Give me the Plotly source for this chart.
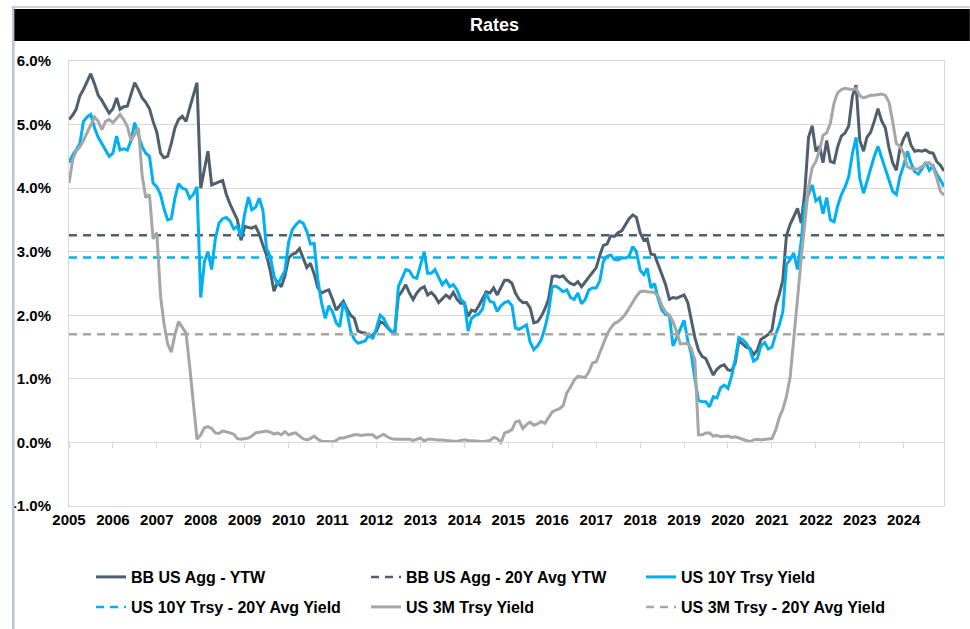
import pandas as pd
import plotly.graph_objects as go

# ---------------- data (monthly, percent) ----------------
dates = pd.date_range("2005-01-01", "2024-12-01", freq="MS")

agg_ytw = [
    5.08, 5.15, 5.24, 5.45, 5.55, 5.68, 5.80, 5.64, 5.46, 5.38, 5.28, 5.18,  # 2005
    5.25, 5.42, 5.24, 5.28, 5.29, 5.50, 5.66, 5.55, 5.42, 5.35, 5.25, 5.05,  # 2006
    4.88, 4.55, 4.48, 4.50, 4.70, 4.95, 5.08, 5.13, 5.05, 5.26, 5.45, 5.66,  # 2007
    4.00, 4.30, 4.58, 4.05, 4.08, 4.10, 4.12, 3.90, 3.75, 3.62, 3.50, 3.18,  # 2008
    3.40, 3.38, 3.37, 3.40, 3.28, 3.10, 2.95, 2.70, 2.38, 2.52, 2.45, 2.62,  # 2009
    2.90, 2.96, 2.98, 3.05, 2.90, 2.75, 2.82, 2.65, 2.43, 2.35, 2.38, 2.40,  # 2010
    2.25, 2.08, 2.15, 2.22, 2.10, 2.00, 1.95, 1.75, 1.73, 1.72, 1.67, 1.69,  # 2011
    1.75, 1.90, 1.87, 1.80, 1.75, 1.72, 2.30, 2.38, 2.48, 2.35, 2.25, 2.35,  # 2012
    2.42, 2.45, 2.32, 2.36, 2.30, 2.20, 2.26, 2.32, 2.27, 2.36, 2.25, 2.19,  # 2013
    2.19, 1.98, 2.08, 2.06, 2.15, 2.25, 2.37, 2.35, 2.43, 2.32, 2.45, 2.55,  # 2014
    2.55, 2.50, 2.35, 2.25, 2.20, 2.20, 2.12, 1.88, 1.90, 1.98, 2.10, 2.25,  # 2015
    2.61, 2.62, 2.60, 2.62, 2.55, 2.50, 2.48, 2.53, 2.45, 2.52, 2.60, 2.68,  # 2016
    2.75, 2.95, 3.10, 3.12, 3.25, 3.24, 3.30, 3.33, 3.42, 3.52, 3.58, 3.54,  # 2017
    3.30, 3.18, 3.20, 2.96, 2.95, 2.80, 2.65, 2.48, 2.25, 2.28, 2.27, 2.30,  # 2018
    2.32, 2.20, 1.95, 1.65, 1.45, 1.35, 1.32, 1.20, 1.06, 1.15, 1.20, 1.22,  # 2019
    1.14, 1.13, 1.25, 1.60, 1.55, 1.50, 1.48, 1.38, 1.45, 1.62, 1.66, 1.70,  # 2020
    1.77, 2.14, 2.32, 2.55, 3.25, 3.43, 3.55, 3.68, 3.45, 3.95, 4.80, 4.98,  # 2021
    4.58, 4.66, 4.40, 4.75, 4.42, 4.40, 4.65, 4.82, 4.87, 4.98, 5.45, 5.62,  # 2022
    4.75, 4.58, 4.80, 4.88, 5.05, 5.25, 5.06, 4.95, 4.63, 4.40, 4.28, 4.62,  # 2023
    4.78, 4.88, 4.68, 4.58, 4.59, 4.58, 4.60, 4.56, 4.55, 4.42, 4.36, 4.27,  # 2024
]

ust10_yield = [
    4.40, 4.52, 4.60, 4.70, 5.05, 5.12, 5.16, 4.95, 4.80, 4.70, 4.62, 4.50,  # 2005
    4.55, 4.82, 4.60, 4.62, 4.60, 4.75, 5.03, 4.85, 4.65, 4.55, 4.50, 4.08,  # 2006
    4.02, 3.90, 3.68, 3.50, 3.52, 3.85, 4.07, 4.00, 3.98, 3.84, 3.90, 4.02,  # 2007
    2.28, 2.85, 3.00, 2.72, 3.20, 3.45, 3.52, 3.54, 3.48, 3.36, 3.40, 3.24,  # 2008
    3.60, 3.86, 3.66, 3.70, 3.84, 3.65, 3.05, 2.93, 2.62, 2.48, 2.58, 2.70,  # 2009
    3.15, 3.35, 3.42, 3.48, 3.45, 3.32, 3.12, 3.13, 2.55, 2.20, 1.95, 2.15,  # 2010
    2.05, 1.88, 1.82, 2.20, 2.05, 1.75, 1.62, 1.56, 1.58, 1.60, 1.70, 1.63,  # 2011
    1.80, 2.00, 1.95, 1.83, 1.75, 1.70, 2.45, 2.60, 2.72, 2.70, 2.60, 2.58,  # 2012
    2.80, 3.00, 2.66, 2.66, 2.72, 2.60, 2.48, 2.55, 2.45, 2.48, 2.40, 2.25,  # 2013
    2.20, 1.75, 1.95, 2.00, 2.02, 2.10, 2.35, 2.22, 2.20, 2.06, 2.15, 2.20,  # 2014
    2.22, 2.15, 1.80, 1.78, 1.82, 1.85, 1.58, 1.46, 1.52, 1.61, 1.80, 2.05,  # 2015
    2.45, 2.46, 2.42, 2.37, 2.40, 2.28, 2.25, 2.35, 2.18, 2.25, 2.40, 2.43,  # 2016
    2.43, 2.55, 2.85, 2.93, 2.95, 2.88, 2.87, 2.90, 2.90, 2.93, 3.08, 3.00,  # 2017
    2.71, 2.64, 2.74, 2.43, 2.50, 2.25, 2.08, 2.01, 2.00, 1.52, 1.65, 1.78,  # 2018
    1.92, 1.60, 1.40, 1.00, 0.66, 0.64, 0.64, 0.56, 0.72, 0.70, 0.86, 0.90,  # 2019
    0.85, 1.05, 1.30, 1.65, 1.62, 1.56, 1.46, 1.28, 1.32, 1.52, 1.57, 1.47,  # 2020
    1.50, 1.70, 1.84, 2.05, 2.80, 2.88, 2.98, 2.72, 3.16, 3.75, 3.92, 4.05,  # 2021
    3.80, 3.85, 3.60, 3.85, 3.50, 3.47, 3.72, 3.90, 4.02, 4.18, 4.55, 4.80,  # 2022
    4.15, 3.92, 4.10, 4.31, 4.50, 4.66, 4.48, 4.32, 4.12, 3.95, 3.90, 4.18,  # 2023
    4.36, 4.58, 4.40, 4.26, 4.22, 4.30, 4.41, 4.28, 4.35, 4.22, 4.13, 4.02,  # 2024
]

ust3m_yield = [
    4.08, 4.45, 4.58, 4.65, 4.75, 4.87, 5.00, 5.12, 5.05, 4.92, 5.05, 5.08,  # 2005
    5.03, 5.10, 5.16, 5.08, 4.97, 4.75, 4.85, 4.95, 4.20, 3.85, 3.90, 3.20,  # 2006
    3.30, 2.30, 1.88, 1.55, 1.42, 1.70, 1.90, 1.80, 1.72, 1.20, 0.62, 0.05,  # 2007
    0.12, 0.23, 0.25, 0.22, 0.15, 0.14, 0.18, 0.17, 0.15, 0.13, 0.06, 0.05,  # 2008
    0.06, 0.07, 0.10, 0.15, 0.16, 0.17, 0.18, 0.16, 0.13, 0.15, 0.12, 0.17,  # 2009
    0.12, 0.14, 0.15, 0.10, 0.06, 0.04, 0.06, 0.10, 0.05, 0.02, 0.02, 0.02,  # 2010
    0.01, 0.03, 0.07, 0.07, 0.09, 0.10, 0.12, 0.12, 0.11, 0.12, 0.12, 0.12,  # 2011
    0.07, 0.10, 0.13, 0.09, 0.06, 0.05, 0.05, 0.04, 0.05, 0.05, 0.03, 0.05,  # 2012
    0.07, 0.02, 0.05, 0.05, 0.04, 0.04, 0.04, 0.03, 0.03, 0.02, 0.02, 0.03,  # 2013
    0.04, 0.03, 0.03, 0.02, 0.02, 0.01, 0.02, 0.03, 0.08, 0.06, 0.00, 0.15,  # 2014
    0.17, 0.20, 0.32, 0.34, 0.22, 0.28, 0.32, 0.27, 0.29, 0.33, 0.30, 0.38,  # 2015
    0.48, 0.51, 0.53, 0.58, 0.78, 0.87, 0.98, 1.04, 1.03, 1.02, 1.11, 1.25,  # 2016
    1.27, 1.43, 1.56, 1.70, 1.80, 1.87, 1.90, 1.95, 2.02, 2.12, 2.22, 2.30,  # 2017
    2.37, 2.38, 2.37, 2.37, 2.36, 2.30, 2.15, 2.05, 2.00, 1.90, 1.74, 1.55,  # 2018
    1.56, 1.56, 1.48, 1.30, 0.12, 0.12, 0.15, 0.15, 0.10, 0.11, 0.09, 0.09,  # 2019
    0.10, 0.08, 0.09, 0.07, 0.05, 0.03, 0.01, 0.04, 0.05, 0.04, 0.05, 0.06,  # 2020
    0.06, 0.20, 0.38, 0.52, 0.72, 1.03, 1.58, 2.25, 2.90, 3.50, 4.02, 4.32,  # 2021
    4.42, 4.60, 4.83, 4.87, 5.02, 5.34, 5.50, 5.55, 5.57, 5.56, 5.55, 5.57,  # 2022
    5.45, 5.42, 5.44, 5.46, 5.46, 5.47, 5.48, 5.46, 5.35, 5.05, 4.70, 4.66,  # 2023
    4.55, 4.34, 4.31, 4.30, 4.30, 4.34, 4.39, 4.40, 4.33, 4.16, 3.95, 3.89,  # 2024
]

# 20-year averages (percent)
avg_names = ["BB US Agg - 20Y Avg YTW", "US 10Y Trsy - 20Y Avg Yield", "US 3M Trsy - 20Y Avg Yield"]
avg_values = [3.26, 2.91, 1.70]

y_ticks = [-1, 0, 1, 2, 3, 4, 5, 6]
y_tick_labels = [f"{v:.1f}%" for v in y_ticks]

# ---------------- style ----------------
C_AGG = "#4f5f6e"
C_10Y = "#00b0f0"
C_3M = "#a6a6a6"
FONT = "Liberation Sans, Arial, sans-serif"

W, H = 970, 629
L, R, T, B = 64, 26, 61, 123
PW, PH = W - L - R, H - T - B


def px_x(X):
    return (X - L) / PW


def px_y(Y):
    return (H - B - Y) / PH


fig = go.Figure()

x_span = [dates[0], dates[-1]]

fig.add_trace(go.Scatter(x=dates, y=agg_ytw, mode="lines", name="BB US Agg - YTW",
                         line=dict(color=C_AGG, width=3), legend="legend"))
fig.add_trace(go.Scatter(x=x_span, y=[avg_values[0]] * 2, mode="lines", name=avg_names[0],
                         line=dict(color=C_AGG, width=2.5, dash="8px,6px"), legend="legend"))
fig.add_trace(go.Scatter(x=dates, y=ust10_yield, mode="lines", name="US 10Y Trsy Yield",
                         line=dict(color=C_10Y, width=3), legend="legend"))
fig.add_trace(go.Scatter(x=x_span, y=[avg_values[1]] * 2, mode="lines", name=avg_names[1],
                         line=dict(color=C_10Y, width=2.5, dash="8px,6px"), legend="legend2"))
fig.add_trace(go.Scatter(x=dates, y=ust3m_yield, mode="lines", name="US 3M Trsy Yield",
                         line=dict(color=C_3M, width=3), legend="legend2"))
fig.add_trace(go.Scatter(x=x_span, y=[avg_values[2]] * 2, mode="lines", name=avg_names[2],
                         line=dict(color=C_3M, width=2.5, dash="8px,6px"), legend="legend2"))

legend_common = dict(
    orientation="h", xanchor="left", yanchor="middle",
    xref="container", yref="container",
    font=dict(family=FONT, size=16, color="#000000", weight="bold"),
    bgcolor="rgba(0,0,0,0)", entrywidth=230, entrywidthmode="pixels",
    itemwidth=30, traceorder="normal", itemclick=False, itemdoubleclick=False,
)

fig.update_layout(
    width=W, height=H,
    margin=dict(l=L, r=R, t=T, b=B, pad=0),
    paper_bgcolor="white", plot_bgcolor="white",
    font=dict(family=FONT, color="#000000"),
    showlegend=True,
    legend=dict(legend_common, x=91 / W, y=1 - 577 / H),
    legend2=dict(legend_common, x=91 / W, y=1 - 607 / H),
    xaxis=dict(
        type="date", range=[dates[0], dates[-1]],
        tick0="2005-01-01", dtick="M12", tickformat="%Y",
        showgrid=False, zeroline=False,
        showline=True, linecolor="#d9d9d9", linewidth=1, mirror=True,
        ticks="", tickfont=dict(family=FONT, size=15, color="#000000", weight="bold"),
    ),
    xaxis2=dict(
        type="date", matches="x", overlaying="x", anchor="free", position=1 / 7,
        tick0="2005-01-01", dtick="M12", showticklabels=False, showgrid=False, zeroline=False,
        showline=True, linecolor="#d9d9d9", linewidth=1,
        ticks="outside", ticklen=5, tickcolor="#d9d9d9", tickwidth=1,
    ),
    yaxis=dict(
        range=[-1, 6], tickvals=y_ticks, ticktext=y_tick_labels,
        showgrid=True, gridcolor="#d9d9d9", gridwidth=1, zeroline=False,
        showline=True, linecolor="#d9d9d9", linewidth=1, mirror=True,
        ticks="", ticklabelstandoff=14,
        tickfont=dict(family=FONT, size=15, color="#000000", weight="bold"),
    ),
    shapes=[
        # outer frame lines
        dict(type="line", xref="paper", yref="paper", x0=px_x(8), x1=px_x(970), y0=px_y(7), y1=px_y(7),
             line=dict(color="#c9d1d9", width=2)),
        dict(type="line", xref="paper", yref="paper", x0=px_x(8), x1=px_x(8), y0=px_y(6), y1=px_y(629),
             line=dict(color="#b8c5d2", width=2.5)),
        # title bar
        dict(type="rect", xref="paper", yref="paper", x0=px_x(9), x1=px_x(970), y0=px_y(41), y1=px_y(9),
             fillcolor="#000000", line=dict(width=0)),
    ],
    annotations=[
        dict(text="Rates", xref="paper", yref="paper", x=px_x(492), y=px_y(25),
             xanchor="center", yanchor="middle", showarrow=False,
             font=dict(family=FONT, size=18, color="#ffffff", weight="bold")),
    ],
)

# an invisible trace on xaxis2 so the zero-line tick axis renders
fig.add_trace(go.Scatter(x=x_span, y=[None, None], xaxis="x2", showlegend=False, hoverinfo="skip"))

fig.write_html(
    "out.html",
    config={"displayModeBar": False},
    post_script="document.body.style.margin='0';document.body.style.padding='0';",
)
